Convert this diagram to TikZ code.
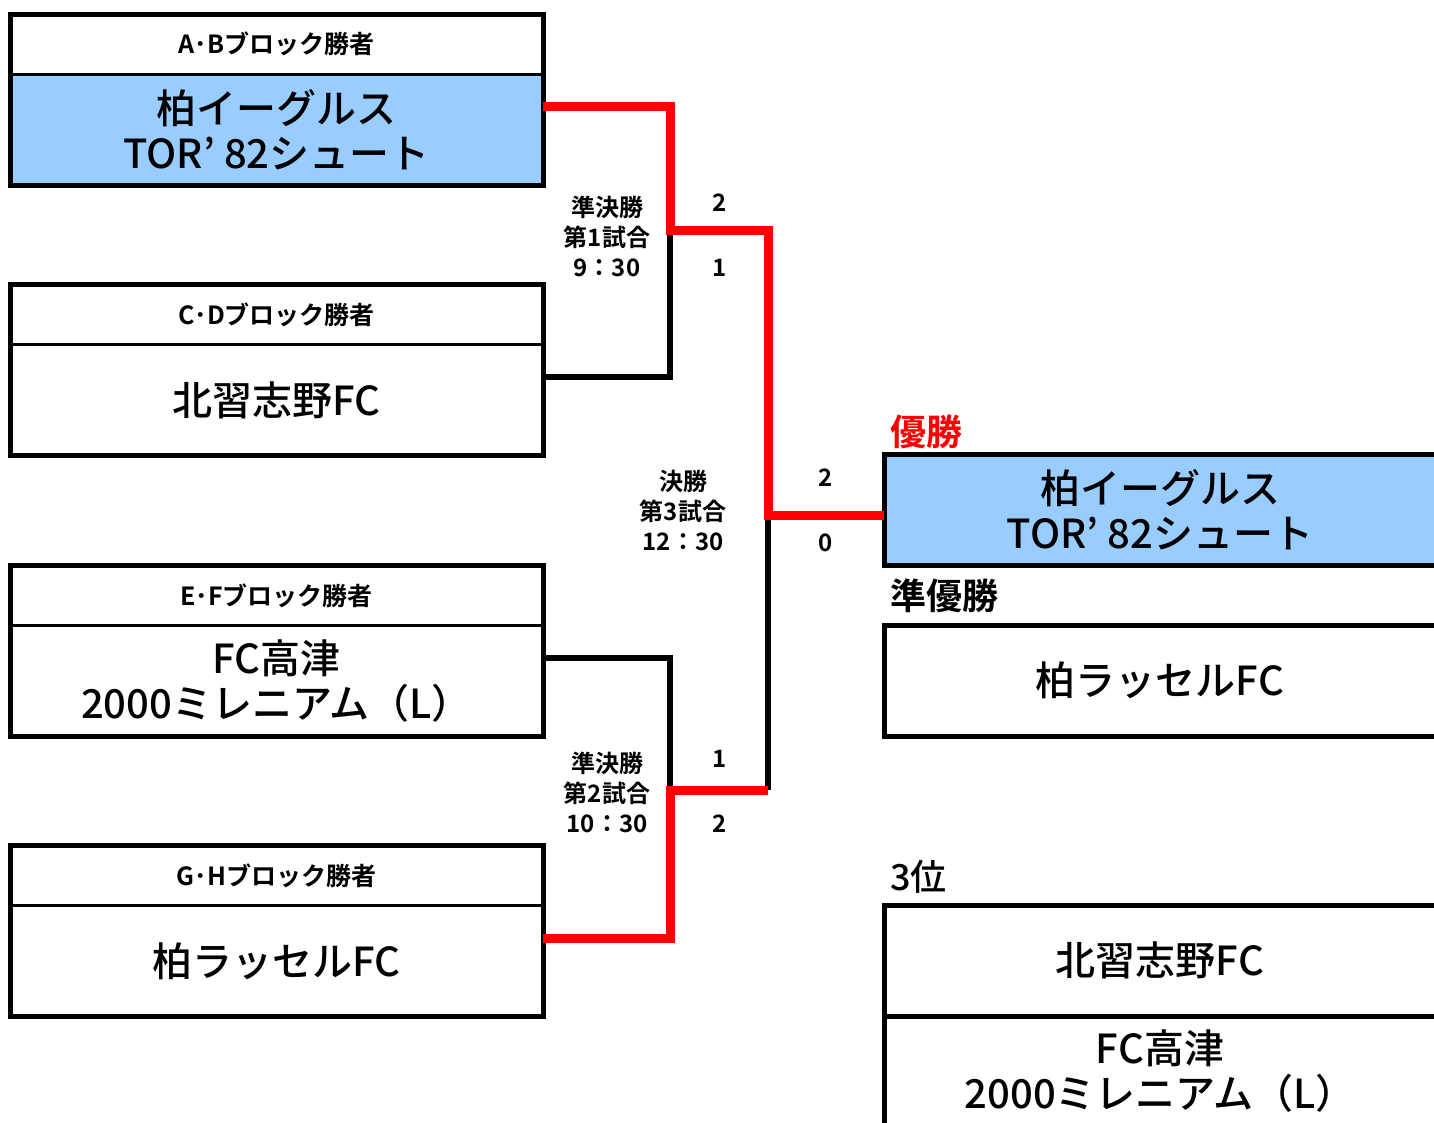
\documentclass[tikz,border=0pt]{standalone}
\usepackage{fontspec}
\setmainfont{Noto Sans CJK JP}[BoldFont={Noto Sans CJK JP Bold}]
\newfontfamily\teamfont{Noto Sans CJK JP Medium}
\usepackage{tikz}
\usetikzlibrary{positioning}
\definecolor{winblue}{HTML}{99CCFF}
\definecolor{winred}{HTML}{FF0000}

\tikzset{
  team/.style={draw, line width=3pt, minimum width=533pt, minimum height=111pt, inner sep=0pt, outer sep=0pt, align=center, font=\teamfont\fontsize{40}{45}\selectfont},
  head/.style={draw, line width=3pt, minimum width=533pt, minimum height=60pt, inner sep=0pt, outer sep=0pt, font=\bfseries\fontsize{25}{30}\selectfont},
  frame/.style={line width=5pt},
  result/.style={team, line width=5pt, minimum width=552pt},
  bracket/.style={line width=5.5pt},
  winline/.style={line width=9pt, draw=winred},
  match/.style={align=center, font=\bfseries\fontsize{24}{30}\selectfont},
  score/.style={font=\bfseries\fontsize{24}{28}\selectfont},
  place/.style={anchor=west, inner sep=0pt, font=\bfseries\fontsize{36}{40}\selectfont}
}

\begin{document}
\begin{tikzpicture}[x=1pt, y=-1pt]
    \clip (0,0) rectangle (1434,1122);
    \fill[white] (0,0) rectangle (1434,1122);

    % blocks
    \node[team, fill=winblue] (ab) at (276.5,129.5) {柏イーグルス\\TOR’ 82シュート};
    \node[head, above=0pt of ab] (abh) {A･Bブロック勝者};
    \node[team] (cd) at (276.5,400) {北習志野FC};
    \node[head, above=0pt of cd] (cdh) {C･Dブロック勝者};
    \node[team] (ef) at (276.5,681) {FC高津\\2000ミレニアム（L）};
    \node[head, above=0pt of ef] (efh) {E･Fブロック勝者};
    \node[team] (gh) at (276.5,961) {柏ラッセルFC};
    \node[head, above=0pt of gh] (ghh) {G･Hブロック勝者};
    \foreach \blk in {ab,cd,ef,gh}
        \draw[frame] (\blk h.north west) rectangle (\blk.south east);

    \coordinate (s1) at (670,230);
    \coordinate (s2) at (670,790);
    \coordinate (fin) at (768,515);

    % results
    \node[result, fill=winblue] (champ) at (1160,510) {柏イーグルス\\TOR’ 82シュート};
    \node[place, text=winred] (champl) at (890,432) {優勝};
    \node[result] (second) at (1160,680.5) {柏ラッセルFC};
    \node[place] (secondl) at (890,596) {準優勝};
    \node[result] (thirda) at (1160,960.5) {北習志野FC};
    \node[result, below=0pt of thirda] (thirdb) {FC高津\\2000ミレニアム（L）};
    \node[place, font=\teamfont\fontsize{36}{40}\selectfont] (thirdl) at (890,877) {3位};

    % bracket
    \draw[bracket] ([yshift=23pt]cd.east) -| (s1);
    \draw[bracket] ([yshift=23pt]ef.east) -| (s2);
    \draw[bracket] (s2 -| fin) -- (fin);
    \draw[winline] ([yshift=23pt]ab.east) -| (s1) -| (fin) -- (fin -| champ.west);
    \draw[winline] ([yshift=23pt]gh.east) -| (s2) -- (s2 -| fin);

    % matches
    \node[match] (semi1) at (607,236) {準決勝\\第1試合\\9：30};
    \node[match] (semi2) at (607,792) {準決勝\\第2試合\\10：30};
    \node[match] (final) at (683,510) {決勝\\第3試合\\12：30};
    \node[score] (s1a) at (720,203) {2};
    \node[score] (s1b) at (720,268) {1};
    \node[score] (s2a) at (720,759) {1};
    \node[score] (s2b) at (720,824) {2};
    \node[score] (fa) at (826,478) {2};
    \node[score] (fb) at (826,543) {0};
\end{tikzpicture}
\end{document}
